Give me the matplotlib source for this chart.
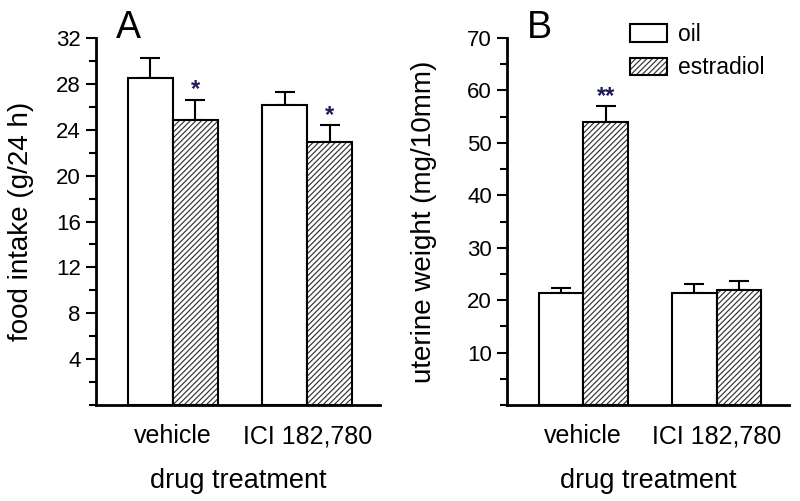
import numpy as np
import matplotlib
matplotlib.use('Agg')
import matplotlib.pyplot as plt
from matplotlib.patches import Patch
from matplotlib.ticker import MultipleLocator

plt.rcParams['font.family'] = ['Liberation Sans', 'DejaVu Sans']
plt.rcParams['hatch.linewidth'] = 0.85
plt.rcParams['hatch.color'] = '#333333'

groups = ['vehicle', 'ICI 182,780']
treatments = ['oil', 'estradiol']

# panel A: food intake (g/24 h)
food_oil = [28.5, 26.15]
food_oil_err = [1.75, 1.15]
food_e2 = [24.85, 22.9]
food_e2_err = [1.75, 1.5]
food_sig = ['*', '*']

# panel B: uterine weight (mg/10mm)
uter_oil = [21.4, 21.4]
uter_oil_err = [0.9, 1.7]
uter_e2 = [54.0, 21.9]
uter_e2_err = [3.0, 1.8]
uter_sig = ['**', '']

W = 0.335
LW = 1.5
HATCH = '//////'
star_color = '#1c1c55'


def panel(ax, oil, oil_err, e2, e2_err, sig, ymax, major, ylabel, letter, lab_x):
    x = np.arange(len(groups))
    xo = x - W / 2
    xe = x + W / 2
    ax.bar(xo, oil, W, color='white', edgecolor='black', linewidth=LW, zorder=2)
    # hatched bars: hatch in gray, outline in black on top
    ax.bar(xe, e2, W, color='white', edgecolor='#333333', hatch=HATCH, linewidth=0, zorder=2)
    ax.bar(xe, e2, W, color='none', edgecolor='black', linewidth=LW, zorder=3)
    ax.errorbar(xo, oil, yerr=[np.zeros(len(oil)), oil_err], fmt='none', ecolor='black',
                elinewidth=LW, capsize=7.5, capthick=LW, zorder=1)
    ax.errorbar(xe, e2, yerr=[np.zeros(len(e2)), e2_err], fmt='none', ecolor='black',
                elinewidth=LW, capsize=7.5, capthick=LW, zorder=1)
    for xi, v, er, s in zip(xe, e2, e2_err, sig):
        if s:
            ax.text(xi, v + er - ymax * 0.004, s, ha='center', va='bottom', fontsize=17,
                    color=star_color, fontweight='bold')
    ax.set_xlim(-0.57, 1.54)
    ax.set_ylim(0, ymax)
    ax.yaxis.set_minor_locator(MultipleLocator(major / 2))
    ticks = np.arange(major, ymax + 0.1, major)
    ax.set_yticks(ticks)
    ax.set_yticklabels([str(int(t)) for t in ticks])
    ax.set_xticks(x)
    ax.set_xticklabels(groups, fontsize=18)
    ax.tick_params(axis='x', length=0, pad=14)
    ax.tick_params(axis='y', which='major', length=7, width=LW, labelsize=16, pad=4)
    ax.tick_params(axis='y', which='minor', length=5, width=LW)
    for s in ['top', 'right']:
        ax.spines[s].set_visible(False)
    for s in ['left', 'bottom']:
        ax.spines[s].set_linewidth(2)
    ax.set_xlabel('drug treatment', fontsize=19.5, labelpad=14)
    ax.set_ylabel(ylabel, fontsize=20)
    ax.yaxis.set_label_coords(lab_x, 0.5)
    ax.text(0.115, 1.0, letter, transform=ax.transAxes, fontsize=27, ha='center', va='baseline')


fig = plt.figure(figsize=(8, 5.01), dpi=100)
axA = fig.add_axes([0.12, 0.1916, 0.355, 0.7325])
axB = fig.add_axes([0.634, 0.1916, 0.352, 0.7325])

panel(axA, food_oil, food_oil_err, food_e2, food_e2_err, food_sig, 32, 4,
      'food intake (g/24 h)', 'A', -0.217)
panel(axB, uter_oil, uter_oil_err, uter_e2, uter_e2_err, uter_sig, 70, 10,
      'uterine weight (mg/10mm)', 'B', -0.25)

h_oil = Patch(facecolor='white', edgecolor='black', linewidth=LW)
h_e2 = (Patch(facecolor='white', edgecolor='#333333', hatch=HATCH, linewidth=0),
        Patch(facecolor='none', edgecolor='black', linewidth=LW))
axB.legend([h_oil, h_e2], treatments, loc='upper left', bbox_to_anchor=(0.364, 1.097),
           frameon=False, fontsize=16.5, handlelength=1.6, handleheight=0.8,
           handletextpad=0.5, labelspacing=0.45)

fig.savefig('out.png', dpi=100)
